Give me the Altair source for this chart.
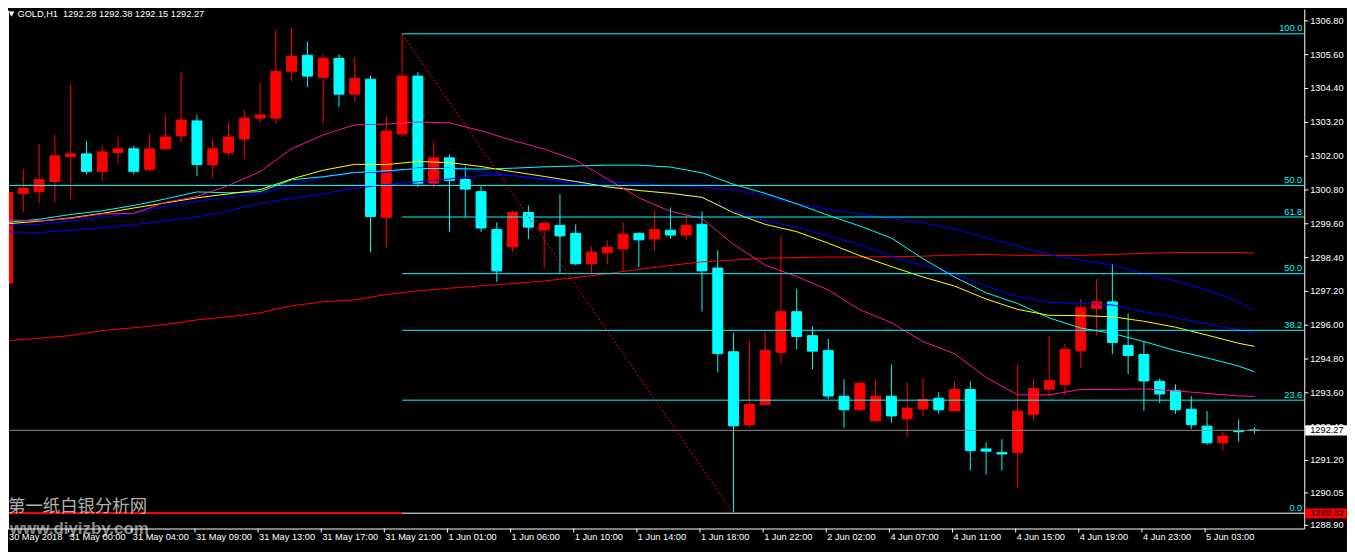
import altair as alt
import pandas as pd

# ---------------- data ----------------
symbol = "GOLD,H1"

opens = [1297.49, 1300.67, 1300.74, 1301.10, 1301.99, 1302.08, 1301.46, 1302.13, 1302.26, 1301.53,
         1302.26, 1302.72, 1303.25, 1301.70, 1302.12, 1302.61, 1303.35, 1303.35, 1305.01, 1305.58,
         1304.80, 1305.47, 1304.20, 1304.73, 1299.83, 1302.79, 1304.84, 1301.04, 1301.94, 1301.17,
         1300.74, 1299.40, 1298.78, 1300.00, 1299.38, 1299.54, 1299.26, 1298.18, 1298.57, 1298.71,
         1299.26, 1299.06, 1299.37, 1299.20, 1299.58, 1298.03, 1295.06, 1292.47, 1293.19, 1295.04,
         1296.48, 1295.63, 1295.10, 1293.48, 1293.00, 1292.61, 1293.48, 1292.68, 1293.03, 1293.41,
         1292.96, 1293.72, 1291.61, 1291.48, 1291.48, 1292.84, 1293.73, 1293.90, 1295.10, 1296.59,
         1296.83, 1295.28, 1294.96, 1294.01, 1293.69, 1293.02, 1292.42, 1291.83, 1292.25, 1292.28]
highs = [1302.48, 1301.55, 1302.44, 1302.75, 1304.52, 1302.54, 1302.37, 1302.68, 1302.37, 1302.79,
         1303.46, 1304.98, 1303.46, 1302.61, 1303.21, 1303.64, 1304.62, 1306.49, 1306.56, 1306.07,
         1305.61, 1305.61, 1305.51, 1304.87, 1303.42, 1306.34, 1304.98, 1302.51, 1302.05, 1301.63,
         1300.93, 1299.65, 1300.07, 1300.25, 1299.68, 1300.64, 1299.58, 1298.80, 1299.01, 1299.65,
         1299.30, 1300.07, 1300.18, 1299.93, 1300.04, 1298.66, 1295.73, 1295.45, 1295.77, 1299.16,
         1297.29, 1295.95, 1295.52, 1294.08, 1293.97, 1294.08, 1294.61, 1293.97, 1294.11, 1293.62,
         1294.01, 1294.01, 1291.85, 1291.96, 1294.61, 1294.11, 1295.63, 1295.35, 1296.93, 1297.64,
         1298.17, 1296.41, 1295.42, 1294.11, 1293.90, 1293.49, 1292.96, 1292.21, 1292.66, 1292.38]
lows = [1297.43, 1300.01, 1300.33, 1300.37, 1300.46, 1301.35, 1301.10, 1301.73, 1301.35, 1301.46,
        1302.22, 1302.51, 1301.28, 1301.21, 1302.01, 1301.92, 1303.19, 1303.14, 1304.66, 1304.45,
        1303.18, 1303.74, 1303.92, 1298.59, 1298.73, 1302.68, 1300.90, 1300.86, 1299.31, 1299.84,
        1299.31, 1297.54, 1298.60, 1299.06, 1298.00, 1297.86, 1298.14, 1297.83, 1298.18, 1297.93,
        1298.07, 1298.64, 1299.06, 1299.03, 1296.49, 1294.33, 1289.32, 1292.36, 1293.17, 1294.65,
        1295.15, 1294.44, 1293.38, 1292.36, 1292.96, 1292.61, 1292.54, 1292.04, 1292.78, 1292.85,
        1292.96, 1290.84, 1290.70, 1290.84, 1290.21, 1292.61, 1293.49, 1293.52, 1294.48, 1295.64,
        1294.97, 1294.26, 1292.96, 1293.24, 1292.85, 1292.32, 1291.76, 1291.55, 1291.87, 1292.15]
closes = [1300.71, 1300.85, 1301.17, 1302.01, 1302.08, 1301.46, 1302.15, 1302.26, 1301.46, 1302.26,
          1302.68, 1303.28, 1301.70, 1302.26, 1302.68, 1303.35, 1303.46, 1305.01, 1305.54, 1304.84,
          1305.47, 1304.20, 1304.76, 1299.86, 1302.89, 1304.84, 1301.04, 1301.94, 1301.14, 1300.83,
          1299.45, 1297.93, 1300.00, 1299.48, 1299.61, 1299.17, 1298.18, 1298.59, 1298.77, 1299.23,
          1299.03, 1299.40, 1299.20, 1299.54, 1297.93, 1295.00, 1292.43, 1293.19, 1295.10, 1296.48,
          1295.60, 1295.08, 1293.49, 1293.00, 1293.94, 1293.48, 1292.78, 1293.05, 1293.37, 1293.00,
          1293.72, 1291.55, 1291.53, 1291.43, 1292.95, 1293.76, 1294.04, 1295.14, 1296.62, 1296.83,
          1295.39, 1294.93, 1294.02, 1293.56, 1293.00, 1292.47, 1291.83, 1292.07, 1292.22, 1292.27]

ma_idx = list(range(0, 80, 2)) + [79]
ma_pink = [1299.74, 1299.70, 1299.79, 1299.95, 1299.97, 1300.36, 1300.57, 1300.96, 1301.45, 1302.26,
           1302.75, 1303.11, 1303.14, 1303.21, 1303.18, 1302.90, 1302.56, 1302.25, 1301.86, 1301.19,
           1300.52, 1300.04, 1299.79, 1298.87, 1298.13, 1297.73, 1297.25, 1296.55, 1296.09, 1295.42,
           1294.99, 1294.15, 1293.53, 1293.53, 1293.72, 1293.72, 1293.74, 1293.67, 1293.58, 1293.49, 1293.47]
ma_yellow = [1299.60, 1299.69, 1299.81, 1299.97, 1300.16, 1300.34, 1300.52, 1300.66, 1300.81, 1301.19,
             1301.50, 1301.71, 1301.70, 1301.81, 1301.77, 1301.63, 1301.45, 1301.28, 1301.10, 1300.91,
             1300.78, 1300.68, 1300.54, 1299.99, 1299.58, 1299.32, 1298.91, 1298.47, 1298.08, 1297.71,
             1297.39, 1296.93, 1296.56, 1296.35, 1296.34, 1296.30, 1296.14, 1295.93, 1295.65, 1295.36, 1295.25]
ma_aqua = [1299.65, 1299.76, 1299.93, 1300.06, 1300.25, 1300.48, 1300.73, 1300.70, 1300.74, 1301.16,
           1301.27, 1301.42, 1301.48, 1301.56, 1301.56, 1301.54, 1301.57, 1301.62, 1301.65, 1301.68,
           1301.68, 1301.61, 1301.41, 1301.00, 1300.68, 1300.31, 1299.90, 1299.52, 1299.09, 1298.36,
           1297.71, 1297.15, 1296.77, 1296.26, 1295.90, 1295.71, 1295.42, 1295.10, 1294.84, 1294.55, 1294.35]
ma_blue_slow = [1299.31, 1299.29, 1299.37, 1299.46, 1299.57, 1299.70, 1299.84, 1300.06, 1300.32, 1300.50,
                1300.66, 1300.86, 1300.99, 1301.09, 1301.19, 1301.31, 1301.31, 1301.19, 1301.10, 1301.08,
                1301.03, 1300.95, 1300.90, 1300.80, 1300.60, 1300.30, 1300.12, 1299.95, 1299.78, 1299.63,
                1299.42, 1299.10, 1298.80, 1298.50, 1298.31, 1298.13, 1297.83, 1297.57, 1297.25, 1296.84, 1296.51]
ma_blue_fast = [1299.54, 1299.58, 1299.69, 1299.83, 1299.97, 1300.22, 1300.40, 1300.55, 1300.66, 1300.99,
                1301.25, 1301.42, 1301.42, 1301.58, 1301.57, 1301.44, 1301.32, 1301.16, 1301.03, 1300.90,
                1300.79, 1300.69, 1300.52, 1300.07, 1299.70, 1299.47, 1299.16, 1298.86, 1298.44, 1298.12,
                1297.83, 1297.38, 1297.02, 1296.81, 1296.78, 1296.72, 1296.48, 1296.27, 1296.05, 1295.84, 1295.72]
ma_red = [1295.45, 1295.54, 1295.63, 1295.81, 1295.91, 1296.02, 1296.19, 1296.30, 1296.44, 1296.69,
          1296.83, 1296.90, 1297.09, 1297.22, 1297.31, 1297.40, 1297.48, 1297.57, 1297.69, 1297.83,
          1297.98, 1298.12, 1298.25, 1298.31, 1298.38, 1298.40, 1298.42, 1298.42, 1298.43, 1298.45,
          1298.49, 1298.51, 1298.48, 1298.48, 1298.48, 1298.51, 1298.55, 1298.58, 1298.58, 1298.58, 1298.56]

time_label_idx = list(range(0, 80, 4))
time_labels = ["30 May 2018", "31 May 00:00", "31 May 04:00", "31 May 09:00", "31 May 13:00",
               "31 May 17:00", "31 May 21:00", "1 Jun 01:00", "1 Jun 06:00", "1 Jun 10:00",
               "1 Jun 14:00", "1 Jun 18:00", "1 Jun 22:00", "2 Jun 02:00", "4 Jun 07:00",
               "4 Jun 11:00", "4 Jun 15:00", "4 Jun 19:00", "4 Jun 23:00", "5 Jun 03:00"]

price_ticks = [1306.80, 1305.60, 1304.40, 1303.20, 1302.00, 1300.80, 1299.60, 1298.40, 1297.20,
               1296.00, 1294.80, 1293.60, 1292.40, 1291.20, 1290.05, 1288.90]

fib_labels = ["100.0", "61.8", "50.0", "38.2", "23.6", "0.0"]
fib_prices = [1306.34, 1299.84, 1297.83, 1295.82, 1293.34, 1289.32]
fib_start_idx = 25
fib2_labels = ["50.0"]
fib2_prices = [1300.96]
trend_idx = [25, 46]
trend_prices = [1306.34, 1289.32]
bid_price = 1292.27
low_line_price = 1289.32
watermark_cn = "第一纸白银分析网"
watermark_url = "www.diyizby.com"

# ---------------- styling ----------------
W, H = 1304, 522
FONT = "Liberation Sans"
FS = 9.3
UP, DOWN = "#FF0000", "#00FFFF"
XMIN = 0.34375
XMAX = XMIN + W / 16.0
YMAX = 1307.199
YMIN = YMAX - H / 28.35

xs = alt.Scale(domain=[XMIN, XMAX], nice=False, zero=False)
ys = alt.Scale(domain=[YMIN, YMAX], nice=False, zero=False)


def X(field):
    return alt.X(field, scale=xs, axis=None)


def Y(field):
    return alt.Y(field, scale=ys, axis=None)


cdf = pd.DataFrame({"i": list(range(len(opens))), "open": opens, "high": highs,
                    "low": lows, "close": closes})
cond = alt.condition("datum.close >= datum.open", alt.value(UP), alt.value(DOWN))
one = pd.DataFrame({"k": [0]})

layers = []

# watermark web address (sits under the time axis labels)
url_df = pd.DataFrame({"t": [watermark_url]})
layers.append(alt.Chart(url_df).mark_text(align="left", baseline="middle", font=FONT,
                                          fontSize=17, fontWeight="bold", color="#8A8A8A").encode(
    x=alt.value(2), y=alt.value(523), text="t:N"))

# candles
layers.append(alt.Chart(cdf).mark_rule(strokeWidth=1).encode(
    x=X("i:Q"), y=Y("low:Q"), y2="high:Q", color=cond))
layers.append(alt.Chart(cdf).mark_bar(size=10, strokeWidth=1).encode(
    x=X("i:Q"), y=Y("open:Q"), y2="close:Q", fill=cond, stroke=cond))

# moving averages
for vals, col in [(ma_red, "#FF0000"), (ma_blue_slow, "#0000FF"), (ma_blue_fast, "#0000FF"),
                  (ma_aqua, "#00FFFF"), (ma_yellow, "#FFFF00"), (ma_pink, "#FF1493")]:
    mdf = pd.DataFrame({"i": ma_idx, "v": vals})
    layers.append(alt.Chart(mdf).mark_line(color=col, strokeWidth=1).encode(
        x=X("i:Q"), y=Y("v:Q")))

# horizontal lines
low_df = pd.DataFrame({"price": [low_line_price]})
layers.append(alt.Chart(low_df).mark_rule(color="#FF0000", strokeWidth=2, yOffset=-0.5).encode(
    x=alt.value(0), x2=alt.value(W), y=Y("price:Q")))

bid_df = pd.DataFrame({"price": [bid_price]})
layers.append(alt.Chart(bid_df).mark_rule(color="#8C8C8C", strokeWidth=1).encode(
    x=alt.value(0), x2=alt.value(W), y=Y("price:Q")))

fib2_df = pd.DataFrame({"price": fib2_prices, "label": fib2_labels})
layers.append(alt.Chart(fib2_df).mark_rule(color="#00FFFF", strokeWidth=1).encode(
    x=alt.value(0), x2=alt.value(W), y=Y("price:Q")))
layers.append(alt.Chart(fib2_df).mark_text(align="right", baseline="alphabetic", dy=-2.5,
                                           font=FONT, fontSize=FS, color="#00FFFF").encode(
    x=alt.value(W - 2), y=Y("price:Q"), text="label:N"))

fib_df = pd.DataFrame({"start": [fib_start_idx] * len(fib_prices), "price": fib_prices,
                       "label": fib_labels})
layers.append(alt.Chart(fib_df).mark_rule(color="#00FFFF", strokeWidth=1).encode(
    x=X("start:Q"), x2=alt.value(W), y=Y("price:Q")))
layers.append(alt.Chart(fib_df).mark_text(align="right", baseline="alphabetic", dy=-2.5,
                                          font=FONT, fontSize=FS, color="#00FFFF").encode(
    x=alt.value(W - 2), y=Y("price:Q"), text="label:N"))

trend_df = pd.DataFrame({"i": trend_idx, "p": trend_prices})
layers.append(alt.Chart(trend_df).mark_line(color="#FF0000", strokeWidth=1, strokeDash=[2, 2]).encode(
    x=X("i:Q"), y=Y("p:Q")))

# ---------------- axes (frame, ticks and labels) ----------------
layers.append(alt.Chart(one).mark_rule(color="white", strokeWidth=1).encode(
    x=alt.value(0.5), y=alt.value(1), y2=alt.value(H + 0.5)))
layers.append(alt.Chart(one).mark_rule(color="white", strokeWidth=1).encode(
    x=alt.value(0), x2=alt.value(W + 0.5), y=alt.value(H + 0.5)))
layers.append(alt.Chart(one).mark_rule(color="white", strokeWidth=1).encode(
    x=alt.value(W + 0.5), y=alt.value(0), y2=alt.value(H + 0.5)))

# time axis
tdf = pd.DataFrame({"i": time_label_idx[1:], "label": time_labels[1:]})
layers.append(alt.Chart(tdf).mark_rule(color="white", strokeWidth=1, xOffset=-2).encode(
    x=X("i:Q"), y=alt.value(H), y2=alt.value(H + 4)))
layers.append(alt.Chart(tdf).mark_text(align="left", baseline="top", dx=-1, font=FONT,
                                       fontSize=FS, color="white").encode(
    x=X("i:Q"), y=alt.value(H + 5), text="label:N"))
first_df = pd.DataFrame({"t": [time_labels[0]]})
layers.append(alt.Chart(first_df).mark_text(align="left", baseline="top", font=FONT, fontSize=FS,
                                            color="white").encode(
    x=alt.value(1), y=alt.value(H + 5), text="t:N"))

# price axis
pdf = pd.DataFrame({"price": price_ticks})
layers.append(alt.Chart(pdf).mark_rule(color="white", strokeWidth=1).encode(
    x=alt.value(W), x2=alt.value(W + 4), y=Y("price:Q")))
layers.append(alt.Chart(pdf).mark_text(align="left", baseline="middle", font=FONT, fontSize=FS,
                                       color="white").encode(
    x=alt.value(W + 6), y=Y("price:Q"), text=alt.Text("price:Q", format=".2f")))

# price boxes on the price axis
box_df = pd.DataFrame({"price": [bid_price, low_line_price], "fill": ["#FFFFFF", "#FF0000"]})
layers.append(alt.Chart(box_df).transform_calculate(
    y0="datum.price - 0.18", y1="datum.price + 0.18").mark_rect().encode(
    x=alt.value(W + 1), x2=alt.value(W + 43),
    y=Y("y0:Q"), y2="y1:Q",
    fill=alt.Fill("fill:N", scale=None)))
layers.append(alt.Chart(box_df).mark_text(align="left", baseline="middle", font=FONT, fontSize=FS,
                                          color="black").encode(
    x=alt.value(W + 6), y=Y("price:Q"), text=alt.Text("price:Q", format=".2f")))

# watermark (Chinese)
wm_df = pd.DataFrame({"t": [watermark_cn]})
layers.append(alt.Chart(wm_df).mark_text(align="left", baseline="middle", font="Noto Sans CJK SC",
                                         fontSize=17.5, color="#C4C4C4", opacity=0.9).encode(
    x=alt.value(0), y=alt.value(500.5), text="t:N"))

# header
hdr_sym = pd.DataFrame({"t": [symbol]})
hdr_px = pd.DataFrame({"t": [" ".join(f"{v:.2f}" for v in
                                      (opens[-1], highs[-1], lows[-1], closes[-1]))]})
layers.append(alt.Chart(one).mark_text(text="\u25BC", align="center", baseline="middle",
                                       font="DejaVu Sans", fontSize=7, color="white").encode(
    x=alt.value(3.5), y=alt.value(4.8)))
layers.append(alt.Chart(hdr_sym).mark_text(align="left", baseline="middle", font=FONT, fontSize=FS,
                                           color="white").encode(
    x=alt.value(9.5), y=alt.value(4.8), text="t:N"))
layers.append(alt.Chart(hdr_px).mark_text(align="left", baseline="middle", font=FONT, fontSize=FS,
                                          color="white").encode(
    x=alt.value(55.3), y=alt.value(4.8), text="t:N"))

chart = alt.layer(*layers).properties(
    width=W, height=H,
    autosize=alt.AutoSizeParams(type="none"),
    padding={"left": 0, "top": 0, "right": 43, "bottom": 22},
).configure(background="black").configure_view(strokeWidth=0)

chart.save("out.html", embed_options={"renderer": "svg", "actions": False})
